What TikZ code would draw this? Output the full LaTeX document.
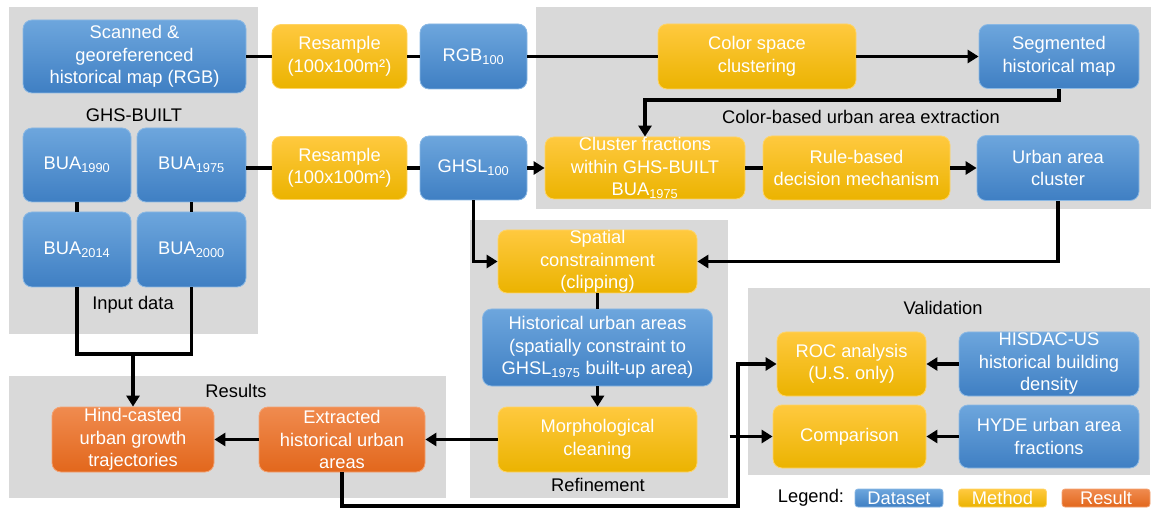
\documentclass[tikz,border=0pt]{standalone}
\usepackage{fontspec}
\setmainfont{Liberation Sans}
\usetikzlibrary{arrows.meta,positioning}
\definecolor{dsTop}{HTML}{6DA6DD}
\definecolor{dsBot}{HTML}{3F7FC3}
\definecolor{mtTop}{HTML}{FFC93F}
\definecolor{mtBot}{HTML}{EBB300}
\definecolor{rsTop}{HTML}{F08B4F}
\definecolor{rsBot}{HTML}{E2671C}
\definecolor{panelgray}{HTML}{D9D9D9}

\begin{document}
\begin{tikzpicture}[
  x=1pt, y=-1pt,
  font=\fontsize{18.3}{22.5}\selectfont, >={Triangle[length=11pt,width=13pt]},
  line width=3.4pt,
  box/.style={rectangle, rounded corners=9pt, align=center, text=white, inner sep=0pt, line width=0.8pt},
  dataset/.style={box, top color=dsTop, bottom color=dsBot, draw=dsTop!80!white},
  method/.style={box, top color=mtTop, bottom color=mtBot, draw=mtTop!80!white},
  result/.style={box, top color=rsTop, bottom color=rsBot, draw=rsTop!80!white},
  panel/.style={rectangle, fill=panelgray, inner sep=0pt},
  legendbox/.style={rounded corners=3pt, minimum width=88pt, minimum height=18pt}
]
\useasboundingbox (0,0) rectangle (1153,510);

% panels
\node[panel, minimum width=249pt, minimum height=327pt] (inp) at (133.5,170.5) {};
\node[panel, minimum width=615pt, minimum height=202pt] (colb) at (843.5,108) {};
\node[panel, minimum width=258pt, minimum height=278pt] (refine) at (599,359) {};
\node[panel, minimum width=437pt, minimum height=122pt] (res) at (227.5,437) {};
\node[panel, minimum width=402pt, minimum height=187pt] (valid) at (949,381.5) {};

\node (ghslbl) at (134,115) {GHS-BUILT};
\node (inplbl) at (133,305) {Input data};
\node (colblbl) at (861,117) {Color-based urban area extraction};
\node (reflbl) at (598,485) {Refinement};
\node (reslbl) at (236,391) {Results};
\node (vallbl) at (943,308) {Validation};

% input data
\node[dataset, minimum width=223pt, minimum height=73pt] (scan) at (134.5,56.5) {Scanned \&\\georeferenced\\historical map (RGB)};
\node[dataset, minimum width=108pt, minimum height=74pt] (bua90) at (77,165) {BUA\textsubscript{1990}};
\node[dataset, minimum width=109pt, minimum height=74pt] (bua75) at (191.5,165) {BUA\textsubscript{1975}};
\node[dataset, minimum width=108pt, minimum height=75pt] (bua14) at (77,249.5) {BUA\textsubscript{2014}};
\node[dataset, minimum width=109pt, minimum height=75pt] (bua00) at (191.5,249.5) {BUA\textsubscript{2000}};

% resampling
\node[method, minimum width=135pt, minimum height=64pt] (resA) at (339.5,56.5) {Resample\\(100x100m²)};
\node[method, minimum width=135pt, minimum height=63pt] (resB) at (339.5,168) {Resample\\(100x100m²)};
\node[dataset, minimum width=107pt, minimum height=65pt] (rgb) at (473.5,56.5) {RGB\textsubscript{100}};
\node[dataset, minimum width=107pt, minimum height=64pt] (ghsl) at (473.5,168) {GHSL\textsubscript{100}};

% color-based extraction
\node[method, minimum width=198pt, minimum height=65pt] (colsp) at (757,56.5) {Color space\\clustering};
\node[dataset, minimum width=160pt, minimum height=64pt] (segm) at (1059,56.5) {Segmented\\historical map};
\node[method, minimum width=200pt, minimum height=62pt] (clfrac) at (645,168) {Cluster fractions\\within GHS-BUILT\\BUA\textsubscript{1975}};
\node[method, minimum width=187pt, minimum height=64pt] (rule) at (856.5,168) {Rule-based\\decision mechanism};
\node[dataset, minimum width=162pt, minimum height=65pt] (urbcl) at (1058,168) {Urban area\\cluster};

% refinement
\node[method, minimum width=199pt, minimum height=63pt] (spat) at (597.5,261.5) {Spatial\\constrainment\\(clipping)};
\node[dataset, minimum width=230pt, minimum height=77pt] (histu) at (597.5,347.5) {Historical urban areas\\(spatially constraint to\\GHSL\textsubscript{1975} built-up area)};
\node[method, minimum width=199pt, minimum height=65pt] (morph) at (597.5,439.5) {Morphological\\cleaning};

% results
\node[result, minimum width=162pt, minimum height=65pt] (hind) at (133,439.5) {Hind-casted\\urban growth\\trajectories};
\node[result, minimum width=166pt, minimum height=65pt] (extr) at (342,439.5) {Extracted\\historical urban\\areas};

% validation
\node[method, minimum width=149pt, minimum height=64pt] (roc) at (851.5,364) {ROC analysis\\(U.S. only)};
\node[dataset, minimum width=180pt, minimum height=64pt] (hisd) at (1049,364) {HISDAC-US\\historical building\\density};
\node[method, minimum width=153pt, minimum height=63pt] (comp) at (849.5,436.5) {Comparison};
\node[dataset, minimum width=180pt, minimum height=63pt] (hyde) at (1049,436.5) {HYDE urban area\\fractions};

% legend
\node (leg) at (811,498) {Legend:};
\node[dataset, legendbox] (legds) at (899,498) {Dataset};
\node[method, legendbox] (legmt) at (1002.5,498) {Method};
\node[result, legendbox] (legrs) at (1106,498) {Result};

% connectors
\draw (scan) -- (resA);
\draw (resA) -- (rgb);
\draw (rgb) -- (colsp);
\draw[->] (colsp) -- (segm);
\draw[->] (segm.south) -- ++(0,11) -| (clfrac.north);
\draw (bua90) -- (bua14);
\draw (bua75) -- (bua00);
\draw (bua75.east |- resB) -- (resB);
\draw (resB) -- (ghsl);
\draw[->] (ghsl) -- (clfrac);
\draw (clfrac) -- (rule);
\draw[->] (rule) -- (urbcl);
\draw[->] (urbcl.south) |- (spat.east);
\draw[->] (ghsl.south) |- (spat.west);
\draw (spat) -- (histu);
\draw[->] (histu) -- (morph);
\draw[->] (morph) -- (extr);
\draw[->] (extr) -- (hind);
\coordinate (join) at (133,354);
\draw (bua14.south) |- (join) -| (bua00.south);
\draw[->] (join) -- (hind);
\coordinate (vbend) at (738,506);
\draw[->] (extr.south) |- (vbend) |- (roc.west);
\draw[->] (refine.east |- comp.west) -- (comp.west);
\draw[->] (hisd) -- (roc);
\draw[->] (hyde) -- (comp);
\end{tikzpicture}
\end{document}
